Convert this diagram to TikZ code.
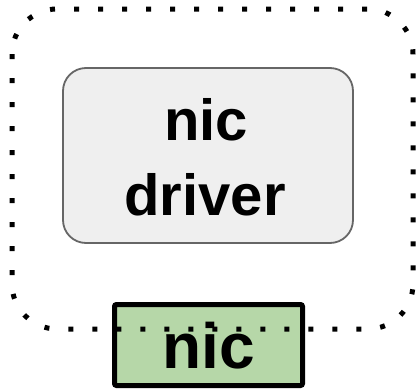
\documentclass[tikz,border=0pt]{standalone}
\usepackage{fontspec}
\setmainfont{Liberation Sans}
\definecolor{drvfill}{HTML}{EFEFEF}
\definecolor{drvline}{HTML}{666666}
\definecolor{nicfill}{HTML}{B6D7A8}
\begin{document}
\begin{tikzpicture}[x=1pt,y=-1pt,
  drvbox/.style={draw=drvline,fill=drvfill,line width=1.8pt,rounded corners=23pt},
  nicbox/.style={draw=black,fill=nicfill,line width=5pt,rounded corners=2pt},
  hostarea/.style={draw=black,line width=5pt,dash pattern=on 5pt off 19pt,rounded corners=45pt},
  lbl/.style={font=\bfseries\fontsize{58}{75}\selectfont,align=center}]
\useasboundingbox (0,0) rectangle (416,389);
% driver box with its two-line label
\draw[drvbox] (63,68) rectangle (353,243);
\node[lbl,anchor=base] (drvtop) at (206,140) {nic};
\node[lbl,anchor=base] (drvbot) at (205,215) {driver};
% hardware device
\draw[nicbox] (114.5,304.5) rectangle (302.5,385.5);
\node[font=\bfseries\fontsize{64}{70}\selectfont,anchor=base] (nic) at (209,368) {nic};
% dotted boundary, drawn last so it crosses the device box
\draw[hostarea] (12,9) rectangle (413,329);
\end{tikzpicture}
\end{document}
